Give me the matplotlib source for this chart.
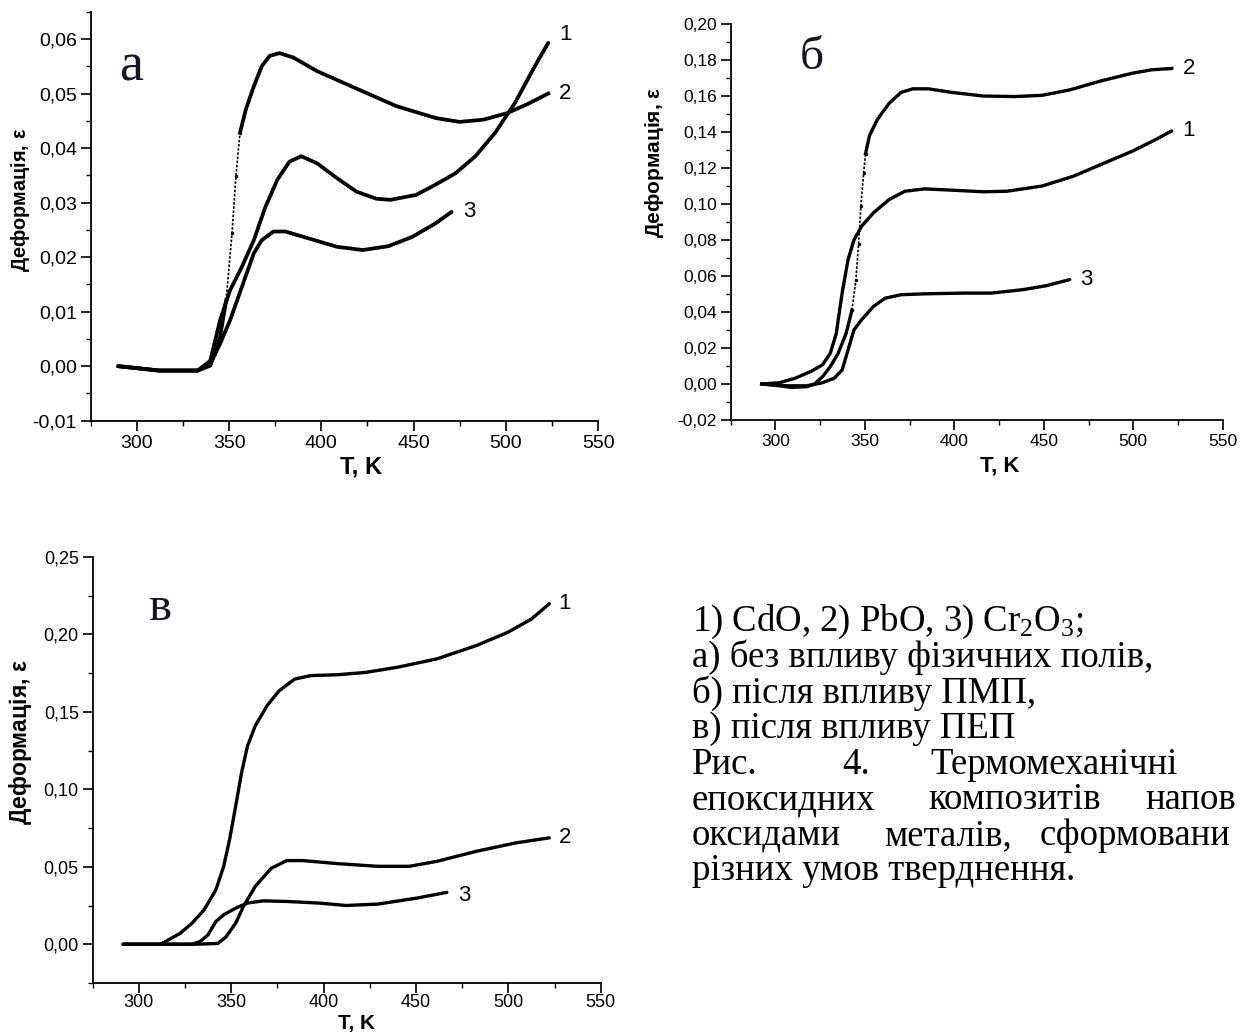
import numpy as np
import matplotlib
matplotlib.use("Agg")
import matplotlib.pyplot as plt
from matplotlib.ticker import MultipleLocator, FixedLocator, FuncFormatter

plt.rcParams["font.family"] = ["Liberation Sans", "DejaVu Sans"]
plt.rcParams["mathtext.default"] = "regular"

# ---- panel а: без впливу фізичних полів ----
A_T1 = [290, 312, 333, 339.8, 345.1, 350.5, 356.9, 363.4, 369.8, 376.2, 382.7, 389.1, 397.7,
        408.4, 419.1, 429.9, 437.4, 451.3, 462, 472.8, 483.5, 494.2, 505, 515.7, 523]
A_E1 = [0.0, -0.0008, -0.0008, 0.001, 0.0084, 0.0139, 0.0182, 0.0231, 0.0293, 0.0342, 0.0375,
        0.0385, 0.0372, 0.0345, 0.032, 0.0307, 0.0305, 0.0314, 0.0333, 0.0354, 0.0385, 0.0428,
        0.0483, 0.055, 0.0593]
A_T2 = [290, 312, 333, 339.8, 345.1, 348.4, 351.6, 353.7, 355.9, 359.1, 363.4, 367.7, 372, 377.3,
        384.8, 397.7, 419.1, 440.6, 462, 474.9, 487.8, 500.7, 511.4, 523]
A_E2 = [0.0, -0.0008, -0.0008, 0.0001, 0.0053, 0.0121, 0.0244, 0.0348, 0.0428, 0.0471, 0.0513,
        0.055, 0.0569, 0.0574, 0.0566, 0.0541, 0.0509, 0.0477, 0.0455, 0.0448, 0.0452, 0.0464,
        0.048, 0.050]
A_T3 = [290, 312, 333, 339.8, 345.1, 350.5, 356.9, 363.4, 367.7, 374.1, 380.5, 393.4, 408.4,
        422.4, 436.3, 449.2, 462, 470.6]
A_E3 = [0.0, -0.0008, -0.0008, 0.0004, 0.0041, 0.0084, 0.0145, 0.0207, 0.0231, 0.0247, 0.0247,
        0.0234, 0.0219, 0.0213, 0.022, 0.0237, 0.0262, 0.0283]

# ---- panel б: після впливу ПМП ----
B_T1 = [292.3, 302.2, 311, 319.7, 326.3, 330.7, 334, 337.3, 340.6, 343.9, 348.2, 354.8, 363.6,
        372.4, 383.3, 398.7, 416.2, 429.4, 449.1, 466.7, 482, 499.6, 512.7, 521.5]
B_E1 = [0.0, 0.0007, 0.0032, 0.0069, 0.0106, 0.0171, 0.028, 0.0505, 0.069, 0.080, 0.0877, 0.0951,
        0.1025, 0.1071, 0.1084, 0.1077, 0.1068, 0.1071, 0.110, 0.1155, 0.122, 0.1294, 0.1359,
        0.1406]
B_T2 = [292.3, 302.2, 308.8, 317.5, 321.9, 326.3, 330.7, 335.1, 339.5, 342.8, 345, 346.5, 347.8,
        349.3, 350.4, 352.6, 357, 363.6, 370.2, 376.8, 385.5, 398.7, 416.2, 433.8, 449.1, 464.5,
        482, 499.6, 510.5, 521.5]
B_E2 = [0.0, -0.001, -0.0019, -0.0015, 0.0, 0.004, 0.0097, 0.0171, 0.028, 0.041, 0.058, 0.078,
        0.099, 0.117, 0.128, 0.138, 0.147, 0.156, 0.162, 0.164, 0.164, 0.162, 0.160, 0.1597,
        0.1604, 0.1634, 0.1684, 0.1727, 0.1746, 0.1753]
B_T3 = [292.3, 306.6, 317.5, 326.3, 332.9, 337.3, 340.6, 343.9, 348.2, 354.8, 361.4, 370.2,
        383.3, 405.3, 420.6, 438.2, 451.3, 464.5]
B_E3 = [0.0, -0.001, -0.001, 0.0007, 0.0032, 0.0078, 0.0189, 0.030, 0.0357, 0.0431, 0.0477,
        0.0496, 0.0501, 0.0505, 0.0505, 0.0524, 0.0546, 0.058]

# ---- panel в: після впливу ПЕП ----
C_T1 = [291.5, 311.8, 316, 322.4, 328.8, 335.3, 341.7, 345.9, 349.1, 352.4, 355.6, 358.8, 363,
        369.4, 375.9, 384.4, 393, 407.9, 422.9, 440, 461.3, 482.7, 499.8, 512.6, 522.2]
C_E1 = [0.0, 0.0, 0.0028, 0.0071, 0.0136, 0.0222, 0.0352, 0.0503, 0.0676, 0.0892, 0.1108, 0.128,
        0.141, 0.154, 0.1636, 0.1712, 0.1734, 0.174, 0.1755, 0.1788, 0.1842, 0.1928, 0.2014,
        0.21, 0.2198]
C_T2 = [291.5, 331, 342.7, 347, 352.4, 356.6, 363, 371.6, 380.1, 388.7, 407.9, 429.3, 446.4,
        461.3, 482.7, 504, 522.2]
C_E2 = [0.0, 0.0, 0.0005, 0.0045, 0.0136, 0.0244, 0.0373, 0.049, 0.054, 0.054, 0.052, 0.0503,
        0.0503, 0.0535, 0.060, 0.0654, 0.0687]
C_T3 = [291.5, 328.8, 333.1, 337.4, 341.7, 345.9, 352.4, 358.8, 367.3, 380.1, 397.2, 412.2,
        429.3, 450.6, 466.7]
C_E3 = [0.0, 0.0, 0.0017, 0.006, 0.0147, 0.019, 0.0233, 0.0266, 0.028, 0.0276, 0.0266, 0.025,
        0.0259, 0.0298, 0.0335]

CURVE_NAMES = ["1", "2", "3"]

CAPTION = [
    "1) CdO, 2) PbO, 3) Cr$_{2}$O$_{3}$;",
    "а) без впливу фізичних полів,",
    "б) після впливу ПМП,",
    "в) після впливу ПЕП",
]
CAPTION_JUST = [
    ["Рис.", "4.", "Термомеханічні"],
    ["епоксидних", "композитів", "напов"],
    ["оксидами", "металів,", "сформовани"],
]
CAPTION_LAST = "різних умов тверднення."


def fmt_comma(v, pos):
    return f"{v:.2f}".replace(".", ",")


def plot_curve(ax, t, e, lw, steep=None):
    t = np.asarray(t)
    e = np.asarray(e)
    if steep is None:
        ax.plot(t, e, color="black", lw=lw, solid_capstyle="round")
        return
    lo, hi = steep
    m1 = t <= lo
    m2 = (t >= lo) & (t <= hi)
    m3 = t >= hi
    ax.plot(t[m1], e[m1], color="black", lw=lw)
    ax.plot(t[m2], e[m2], color="black", lw=1.2, ls=(0, (1.5, 1.0)), marker=".", ms=3)
    ax.plot(t[m3], e[m3], color="black", lw=lw)


def style_axes(ax, ylim, ymaj, ymin, tick_fs, ylab_fs, xlab_fs, xlab_pos, ylab_pos):
    ax.set_xlim(275, 550)
    ax.set_ylim(*ylim)
    ax.xaxis.set_major_locator(MultipleLocator(50))
    ax.xaxis.set_minor_locator(MultipleLocator(25))
    ax.yaxis.set_major_locator(MultipleLocator(ymaj))
    ax.yaxis.set_minor_locator(MultipleLocator(ymin))
    ax.yaxis.set_major_formatter(FuncFormatter(fmt_comma))
    for s in ["top", "right"]:
        ax.spines[s].set_visible(False)
    for s in ["left", "bottom"]:
        ax.spines[s].set_linewidth(1.3)
    ax.tick_params(which="major", direction="out", length=7, width=1.2, labelsize=tick_fs, pad=3)
    ax.tick_params(which="minor", direction="out", length=3.5, width=1.0)
    ax.set_xlabel("T, K", fontsize=xlab_fs, fontweight="bold")
    ax.set_ylabel("Деформація, $\\varepsilon$", fontsize=ylab_fs, fontweight="bold")
    ax.xaxis.set_label_coords(*xlab_pos)
    ax.yaxis.set_label_coords(*ylab_pos)


fig = plt.figure(figsize=(12.46, 10.36), dpi=100)

# panel а
ax_a = fig.add_axes([0.0728, 0.5939, 0.4072, 0.3948])
plot_curve(ax_a, A_T1, A_E1, 2.7)
plot_curve(ax_a, A_T2, A_E2, 2.7, steep=(348.4, 355.9))
plot_curve(ax_a, A_T3, A_E3, 2.7)
style_axes(ax_a, (-0.01, 0.065), 0.01, 0.005, 14, 14.3, 17, (0.533, -0.085), (-0.116, 0.54))
ax_a.yaxis.set_major_locator(FixedLocator(np.arange(-0.01, 0.0601, 0.01)))
ax_a.text(A_T1[-1] + 6, A_E1[-1] + 0.0015, CURVE_NAMES[0], fontsize=16, va="center")
ax_a.text(A_T2[-1] + 6, A_E2[-1], CURVE_NAMES[1], fontsize=16, va="center")
ax_a.text(A_T3[-1] + 6, A_E3[-1], CURVE_NAMES[2], fontsize=16, va="center")
ax_a.text(0.079, 0.865, "а", transform=ax_a.transAxes, fontsize=39, family="Liberation Serif",
          color="#141428", ha="center", va="center")

# panel б
ax_b = fig.add_axes([0.5864, 0.5946, 0.3949, 0.3822])
plot_curve(ax_b, B_T1, B_E1, 2.4)
plot_curve(ax_b, B_T2, B_E2, 2.4, steep=(342.8, 350.4))
plot_curve(ax_b, B_T3, B_E3, 2.4)
style_axes(ax_b, (-0.02, 0.20), 0.02, 0.01, 12.5, 15, 16, (0.547, -0.09), (-0.131, 0.65))
ax_b.text(B_T1[-1] + 6, B_E1[-1], CURVE_NAMES[0], fontsize=16, va="center")
ax_b.text(B_T2[-1] + 6, B_E2[-1], CURVE_NAMES[1], fontsize=16, va="center")
ax_b.text(B_T3[-1] + 6, B_E3[-1], CURVE_NAMES[2], fontsize=16, va="center")
ax_b.text(0.165, 0.914, "б", transform=ax_b.transAxes, fontsize=34, family="Liberation Serif",
          color="#141428", ha="center", va="center")

# panel в
ax_c = fig.add_axes([0.0744, 0.0512, 0.4077, 0.4112])
plot_curve(ax_c, C_T1, C_E1, 2.4)
plot_curve(ax_c, C_T2, C_E2, 2.4)
plot_curve(ax_c, C_T3, C_E3, 2.4)
style_axes(ax_c, (-0.025, 0.25), 0.05, 0.025, 13, 16.5, 15, (0.52, -0.072), (-0.116, 0.566))
ax_c.yaxis.set_major_locator(FixedLocator(np.arange(0.0, 0.2501, 0.05)))
ax_c.tick_params(axis="x", pad=1)
ax_c.text(C_T1[-1] + 5, C_E1[-1], CURVE_NAMES[0], fontsize=16, va="center")
ax_c.text(C_T2[-1] + 5, C_E2[-1], CURVE_NAMES[1], fontsize=16, va="center")
ax_c.text(C_T3[-1] + 6, C_E3[-1] - 0.002, CURVE_NAMES[2], fontsize=16, va="center")
ax_c.text(0.132, 0.88, "в", transform=ax_c.transAxes, fontsize=35, family="Liberation Serif",
          color="#141428", ha="center", va="center")

# caption text on the right
cap_fs = 26.5
x0 = 692 / 1246
line_y = [622 + 35.6 * i for i in range(8)]
for i, line in enumerate(CAPTION):
    fig.text(x0, 1 - line_y[i] / 1036, line, fontsize=cap_fs, family="Liberation Serif",
             va="center", ha="left")
word_x = [[692, 842, 930], [692, 928, 1145], [692, 884, 1040]]
for j, words in enumerate(CAPTION_JUST):
    for w, px in zip(words, word_x[j]):
        fig.text(px / 1246, 1 - line_y[4 + j] / 1036, w, fontsize=cap_fs,
                 family="Liberation Serif", va="center", ha="left")
fig.text(x0, 1 - line_y[7] / 1036, CAPTION_LAST, fontsize=cap_fs, family="Liberation Serif",
         va="center", ha="left")

fig.savefig("out.png", dpi=100)
